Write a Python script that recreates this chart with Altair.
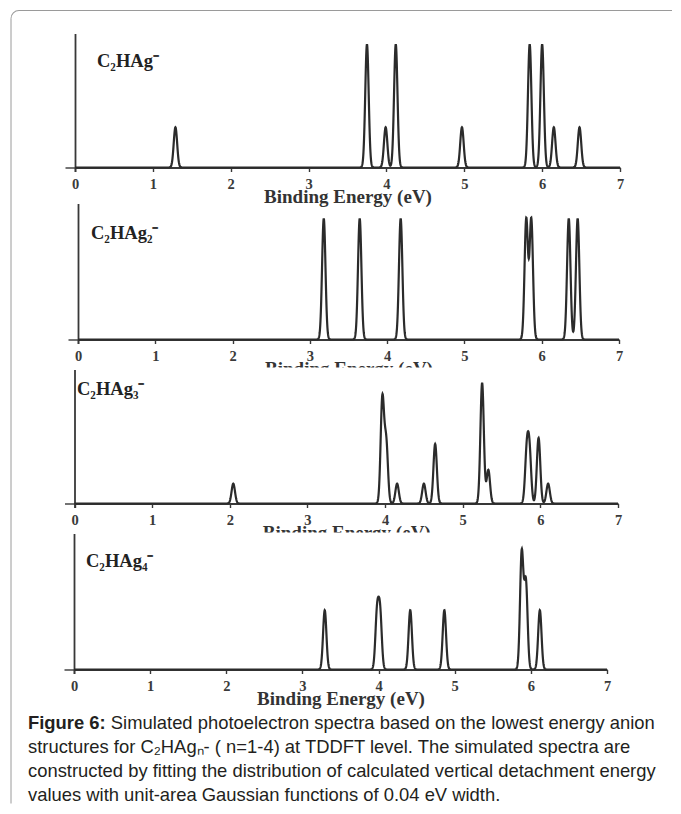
import altair as alt
import numpy as np
import pandas as pd

# ---------------- data ----------------
SIGMA = 0.022  # Gaussian width (eV) of each simulated line

panel_labels = ["C₂HAg⁻", "C₂HAg₂⁻", "C₂HAg₃⁻", "C₂HAg₄⁻"]

p1_centers = [1.29, 3.75, 3.99, 4.12, 4.97, 5.84, 6.00, 6.15, 6.48]
p1_heights = [0.30, 0.92, 0.30, 0.92, 0.30, 0.92, 0.92, 0.30, 0.30]

p2_centers = [3.18, 3.645, 4.175, 5.80, 5.865, 6.35, 6.465]
p2_heights = [0.89, 0.89, 0.89, 0.885, 0.885, 0.89, 0.89]

p3_centers = [2.045, 3.965, 4.015, 4.155, 4.50, 4.645, 5.25, 5.33, 5.825, 5.86, 5.977, 6.10]
p3_heights = [0.148, 0.78, 0.45, 0.148, 0.148, 0.444, 0.90, 0.25, 0.37, 0.37, 0.49, 0.148]

p4_centers = [3.293, 3.98, 4.02, 4.416, 4.864, 5.88, 5.935, 6.118]
p4_heights = [0.436, 0.405, 0.405, 0.436, 0.436, 0.857, 0.635, 0.436]

x_ticks = [0, 0.5, 1, 1.5, 2, 2.5, 3, 3.5, 4, 4.5, 5, 5.5, 6, 6.5, 7]
x_title = "Binding Energy (eV)"

caption_bold = "Figure 6:"
caption_lines = [
    "Simulated photoelectron spectra based on the lowest energy anion",
    "structures for C₂HAgₙ- ( n=1-4) at TDDFT level. The simulated spectra are",
    "constructed by fitting the distribution of calculated vertical detachment energy",
    "values with unit-area Gaussian functions of 0.04 eV width.",
]

# ---------------- spectra: sum of Gaussians on an energy grid ----------------
grid = np.round(np.arange(0, 7.0001, 0.0025), 4)


def spectrum(centers, heights):
    y = np.zeros_like(grid)
    for c, h in zip(centers, heights):
        y += h * np.exp(-0.5 * ((grid - c) / SIGMA) ** 2)
    return pd.DataFrame({"e": grid, "v": y})


one = pd.DataFrame({"a": [0]})

# layout per panel: x range (px), plot height, top pad, label pos, cover
panels = [
    dict(c=p1_centers, h=p1_heights, xr=(1, 546), H=138, pad=0, lx=23, ly=27, cover=None),
    dict(c=p2_centers, h=p2_heights, xr=(4, 545), H=146, pad=6, lx=17, ly=35, cover=None),
    dict(c=p3_centers, h=p3_heights, xr=(0.5, 544), H=138, pad=0, lx=3, ly=19, cover=(-2, 12)),
    dict(c=p4_centers, h=p4_heights, xr=(0, 533), H=140, pad=0, lx=12, ly=27, cover=(-1, 12)),
]

INK = "#2b2b2b"
AXIS = "#383838"
BORDER = "#9a9a9a"

charts = []
for i, p in enumerate(panels):
    span = p["H"] - p["pad"] - 4
    df = spectrum(p["c"], p["h"])
    xr0, xr1 = p["xr"]

    xenc = alt.X(
        "e:Q",
        scale=alt.Scale(domain=[0, 7], range=[xr0, xr1], nice=False),
        axis=alt.Axis(
            values=x_ticks,
            labelExpr="datum.value % 1 === 0 ? datum.label : ''",
            format="d",
            title=x_title,
            titleY=35,
            titleBaseline="alphabetic",
            offset=-4,
            grid=False,
            labelOverlap=False,
            labelFlush=False,
        ),
    )
    yaxis_kwargs = dict(values=[0], labels=False, tickSize=10, title="", grid=False)
    if xr0 != 0:
        yaxis_kwargs["offset"] = -xr0
    yenc = alt.Y(
        "v:Q",
        scale=alt.Scale(domain=[-4.0 / span, 1.0], range=[p["H"], p["pad"]], nice=False, zero=False),
        axis=alt.Axis(**yaxis_kwargs),
    )

    line = alt.Chart(df).mark_line(color=INK, strokeWidth=2.2).encode(x=xenc, y=yenc)

    label = alt.Chart(pd.DataFrame({"t": [panel_labels[i]]})).mark_text(
        align="left", baseline="middle", font="Liberation Serif", fontWeight="bold",
        fontSize=18.5, color="#222222"
    ).encode(x=alt.value(p["lx"]), y=alt.value(p["ly"]), text="t:N")

    layers = []
    if p["cover"] is not None:
        cov = alt.Chart(one).mark_rect(color="white").encode(
            x=alt.datum(2.25), x2=alt.datum(4.85),
            y=alt.value(p["cover"][0]), y2=alt.value(p["cover"][1]),
        )
        layers.append(cov)
    layers += [line, label]

    if i == 0:
        left_rule = alt.Chart(one).mark_rule(color=BORDER, strokeWidth=1).encode(
            x=alt.value(-63), y=alt.value(-15), y2=alt.value(770)
        )
        top_rule = alt.Chart(one).mark_rule(color=BORDER, strokeWidth=1).encode(
            x=alt.value(-55), x2=alt.value(598), y=alt.value(-23)
        )
        corner = alt.Chart(one).mark_arc(
            radius=8.5, radius2=7.5, theta=4.712, theta2=6.2832, color=BORDER
        ).encode(x=alt.value(-55), y=alt.value(-15))
        layers += [left_rule, top_rule, corner]

    if i == 3:
        cap_font = dict(font="Liberation Sans", fontSize=18.4, color="#231f20", align="left", baseline="middle")
        bold = alt.Chart(pd.DataFrame({"t": [caption_bold]})).mark_text(
            fontWeight="bold", **cap_font
        ).encode(x=alt.value(-46), y=alt.value(189), text="t:N")
        layers.append(bold)
        ys = [189, 213, 237, 261]
        xs = [-46 + (4.223 + 0.278) * 18.4, -46, -46, -46]
        for j, txt in enumerate(caption_lines):
            layers.append(
                alt.Chart(pd.DataFrame({"t": [txt]})).mark_text(**cap_font).encode(
                    x=alt.value(xs[j]), y=alt.value(ys[j]), text="t:N"
                )
            )

    charts.append(alt.layer(*layers).properties(width=xr1, height=p["H"]))

chart = (
    alt.vconcat(*charts, spacing=26, bounds="flush")
    .properties(padding={"left": 2, "top": 1.5, "right": 0, "bottom": 0})
    .configure_view(strokeWidth=0)
    .configure_axis(
        domainColor=AXIS, domainWidth=1.8, tickColor=AXIS, tickWidth=1.4, tickSize=4,
        labelFont="Liberation Serif", labelFontWeight="bold", labelFontSize=14.5,
        labelColor="#3a3a3a", labelPadding=6,
        titleFont="Liberation Serif", titleFontWeight="bold", titleFontSize=19,
        titleColor="#333333",
    )
)

chart.save("out.html", embed_options={"renderer": "svg", "actions": False})
